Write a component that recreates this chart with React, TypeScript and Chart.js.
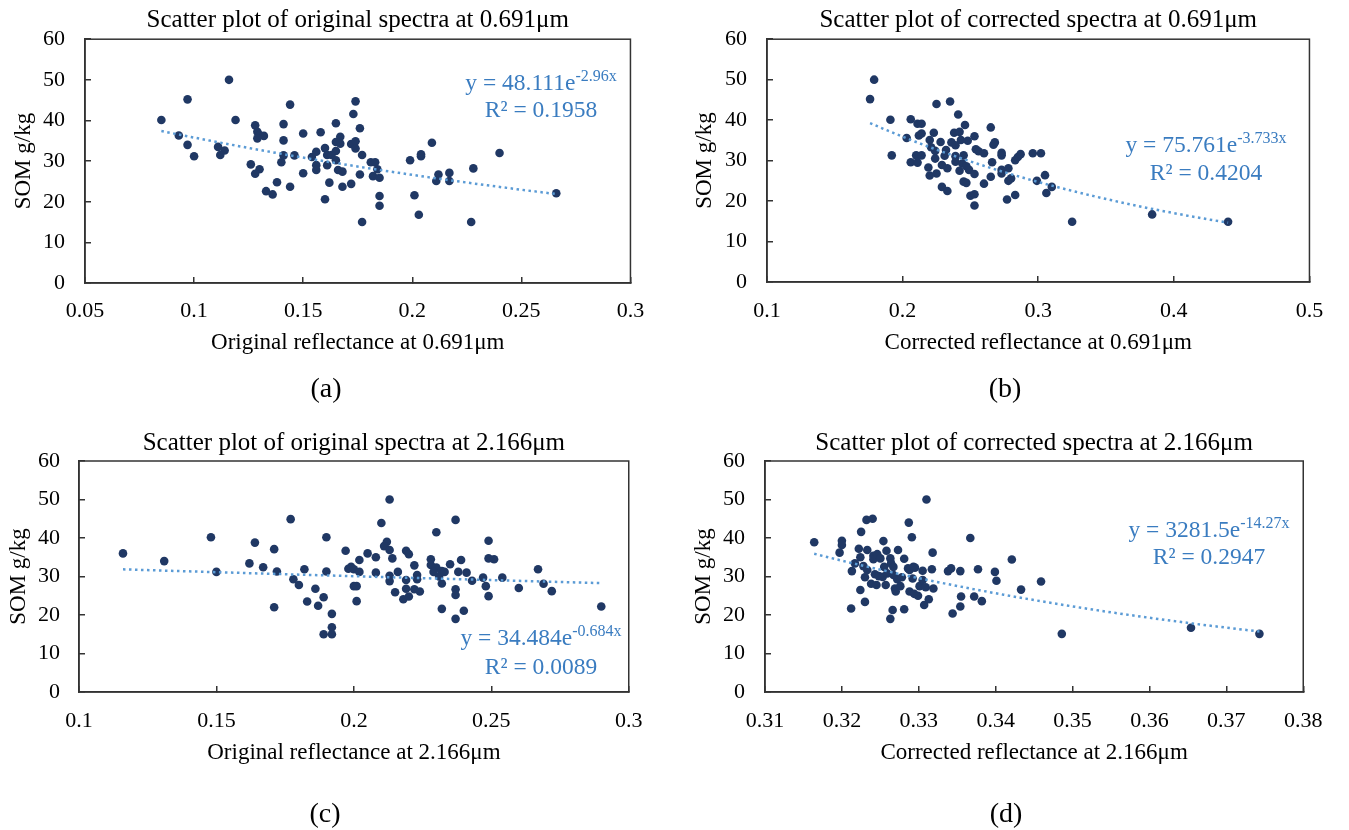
import React, { useEffect, useRef } from "react";
import { Chart, registerables } from "chart.js";

Chart.register(...registerables);

const SERIF = "'Liberation Serif', 'Times New Roman', serif";
const POINT_COLOR = "#203864";
const TREND_COLOR = "#5b9bd5";
const EQ_COLOR = "#3a7cc0";

// ---------- Panel (a): original spectra at 0.691 µm ----------
const A_X = [0.085, 0.097, 0.116, 0.093, 0.097, 0.100, 0.119, 0.111, 0.114, 0.112, 0.128, 0.129, 0.130, 0.132, 0.129, 0.126, 0.130, 0.128, 0.133, 0.136, 0.138, 0.141, 0.141, 0.144, 0.140, 0.141, 0.146, 0.144, 0.150, 0.150, 0.154, 0.156, 0.158, 0.156, 0.156, 0.160, 0.161, 0.161, 0.160, 0.162, 0.165, 0.167, 0.165, 0.167, 0.165, 0.163, 0.165, 0.166, 0.168, 0.168, 0.172, 0.173, 0.174, 0.172, 0.174, 0.174, 0.176, 0.177, 0.176, 0.177, 0.181, 0.183, 0.182, 0.184, 0.185, 0.185, 0.185, 0.199, 0.204, 0.204, 0.209, 0.201, 0.203, 0.212, 0.211, 0.217, 0.217, 0.228, 0.227, 0.240, 0.266];
const A_Y = [40.1, 45.2, 50.0, 36.3, 34.0, 31.2, 40.1, 33.5, 32.6, 31.5, 38.8, 37.2, 36.4, 36.2, 35.6, 29.2, 28.0, 26.9, 22.6, 21.8, 24.8, 39.1, 35.1, 43.9, 29.7, 31.4, 31.4, 23.7, 36.8, 27.0, 31.0, 32.3, 37.1, 29.0, 27.8, 33.2, 31.5, 29.0, 20.6, 24.7, 39.3, 36.0, 34.7, 34.3, 32.5, 31.5, 30.2, 27.8, 27.4, 23.7, 24.4, 41.6, 44.7, 34.2, 34.9, 33.1, 38.1, 31.5, 26.7, 15.0, 29.7, 29.7, 26.3, 28.0, 25.9, 21.4, 19.0, 30.2, 31.2, 31.7, 34.5, 21.6, 16.8, 26.7, 25.1, 27.1, 25.1, 28.2, 15.0, 32.0, 22.1];

// ---------- Panel (b): corrected spectra at 0.691 µm ----------
const B_X = [0.179, 0.176, 0.191, 0.192, 0.206, 0.203, 0.211, 0.214, 0.212, 0.214, 0.206, 0.211, 0.210, 0.214, 0.223, 0.225, 0.220, 0.221, 0.224, 0.228, 0.224, 0.219, 0.220, 0.225, 0.229, 0.233, 0.229, 0.233, 0.231, 0.235, 0.241, 0.238, 0.242, 0.236, 0.239, 0.243, 0.246, 0.248, 0.232, 0.239, 0.245, 0.239, 0.244, 0.242, 0.247, 0.249, 0.253, 0.245, 0.247, 0.253, 0.254, 0.256, 0.260, 0.260, 0.250, 0.253, 0.253, 0.265, 0.268, 0.267, 0.266, 0.265, 0.273, 0.273, 0.273, 0.278, 0.273, 0.278, 0.280, 0.277, 0.283, 0.283, 0.285, 0.287, 0.296, 0.299, 0.302, 0.305, 0.310, 0.306, 0.325, 0.384, 0.440];
const B_Y = [50.0, 45.2, 40.1, 31.3, 40.2, 35.6, 39.1, 39.1, 36.2, 36.7, 29.6, 29.5, 31.3, 31.3, 36.9, 44.0, 35.1, 33.3, 32.4, 34.6, 30.5, 28.3, 26.3, 26.8, 23.5, 22.5, 28.9, 28.1, 31.2, 44.6, 41.4, 36.9, 37.1, 34.5, 33.8, 35.1, 38.8, 34.9, 32.6, 31.1, 31.3, 29.7, 29.3, 27.5, 28.6, 27.7, 26.7, 24.8, 24.5, 36.0, 32.8, 32.3, 31.8, 24.3, 21.3, 21.7, 18.9, 38.2, 34.5, 33.9, 29.6, 26.0, 31.9, 31.3, 27.7, 28.1, 26.8, 25.0, 25.6, 20.4, 21.5, 30.1, 30.9, 31.6, 31.8, 25.0, 31.8, 26.4, 23.5, 22.0, 14.9, 16.7, 14.9];

// ---------- Panel (c): original spectra at 2.166 µm ----------
const C_X = [0.116, 0.131, 0.148, 0.150, 0.164, 0.162, 0.167, 0.171, 0.172, 0.171, 0.177, 0.178, 0.180, 0.182, 0.183, 0.186, 0.187, 0.189, 0.190, 0.190, 0.192, 0.192, 0.189, 0.192, 0.197, 0.198, 0.199, 0.200, 0.200, 0.201, 0.201, 0.202, 0.202, 0.205, 0.208, 0.208, 0.210, 0.212, 0.211, 0.213, 0.213, 0.214, 0.213, 0.213, 0.215, 0.216, 0.219, 0.220, 0.219, 0.219, 0.218, 0.220, 0.222, 0.223, 0.223, 0.222, 0.224, 0.228, 0.230, 0.228, 0.230, 0.229, 0.232, 0.231, 0.233, 0.235, 0.232, 0.232, 0.237, 0.239, 0.238, 0.237, 0.237, 0.241, 0.243, 0.237, 0.240, 0.249, 0.249, 0.251, 0.247, 0.248, 0.249, 0.254, 0.260, 0.267, 0.269, 0.272, 0.290];
const C_Y = [36.0, 34.0, 40.2, 31.2, 38.8, 33.4, 32.4, 37.1, 31.3, 22.0, 44.9, 29.3, 27.8, 31.9, 23.5, 26.8, 22.4, 24.6, 40.2, 31.3, 20.3, 16.8, 15.0, 15.0, 36.7, 32.0, 32.5, 31.9, 27.5, 27.5, 23.6, 34.3, 31.2, 36.0, 35.0, 31.0, 43.9, 39.0, 37.9, 36.9, 50.0, 34.7, 30.2, 28.8, 25.9, 31.2, 36.7, 35.8, 29.1, 26.8, 24.1, 24.8, 32.9, 30.4, 29.3, 26.7, 26.1, 34.5, 41.5, 33.0, 32.3, 31.2, 31.4, 30.0, 31.2, 33.2, 28.2, 21.6, 44.7, 34.3, 31.2, 26.7, 25.2, 31.0, 28.9, 19.0, 21.1, 39.3, 34.7, 34.5, 29.7, 27.5, 24.9, 29.7, 27.0, 31.9, 28.1, 26.2, 22.2];

// ---------- Panel (d): corrected spectra at 2.166 µm ----------
const D_X = [0.3164, 0.3200, 0.3200, 0.3197, 0.3212, 0.3213, 0.3217, 0.3224, 0.3222, 0.3225, 0.3232, 0.3240, 0.3224, 0.3230, 0.3230, 0.3228, 0.3233, 0.3233, 0.3238, 0.3241, 0.3241, 0.3246, 0.3250, 0.3254, 0.3243, 0.3245, 0.3248, 0.3255, 0.3258, 0.3257, 0.3253, 0.3259, 0.3263, 0.3264, 0.3267, 0.3267, 0.3269, 0.3270, 0.3273, 0.3266, 0.3263, 0.3272, 0.3276, 0.3278, 0.3281, 0.3281, 0.3287, 0.3291, 0.3286, 0.3288, 0.3293, 0.3295, 0.3292, 0.3288, 0.3294, 0.3299, 0.3301, 0.3305, 0.3305, 0.3309, 0.3310, 0.3307, 0.3313, 0.3318, 0.3317, 0.3319, 0.3338, 0.3342, 0.3354, 0.3355, 0.3354, 0.3344, 0.3367, 0.3377, 0.3372, 0.3382, 0.3399, 0.3401, 0.3421, 0.3433, 0.3459, 0.3486, 0.3654, 0.3743];
const D_Y = [38.9, 39.3, 38.2, 36.2, 21.7, 31.4, 33.4, 35.0, 37.2, 41.6, 44.7, 45.0, 26.5, 23.4, 29.8, 32.7, 36.9, 31.7, 28.1, 35.4, 34.5, 35.8, 34.7, 39.2, 30.6, 27.8, 30.1, 32.5, 36.7, 27.8, 29.9, 30.8, 34.7, 33.4, 32.5, 30.4, 26.9, 26.1, 36.9, 21.3, 19.0, 29.3, 27.5, 29.8, 34.6, 21.5, 44.0, 40.2, 32.1, 31.7, 32.5, 32.3, 29.5, 26.1, 25.5, 25.0, 27.5, 31.5, 29.1, 27.2, 50.0, 22.6, 24.1, 36.2, 31.9, 26.9, 31.4, 32.1, 31.4, 24.8, 22.2, 20.4, 40.0, 31.9, 24.8, 23.6, 31.2, 28.9, 34.4, 26.6, 28.7, 15.1, 16.7, 15.1];

// ---------- Ticks ----------
const Y_TICKS = [0, 10, 20, 30, 40, 50, 60];
const X_TICKS_A = [0.05, 0.1, 0.15, 0.2, 0.25, 0.3];
const X_TICKS_B = [0.1, 0.2, 0.3, 0.4, 0.5];
const X_TICKS_C = [0.1, 0.15, 0.2, 0.25, 0.3];
const X_TICKS_D = [0.31, 0.32, 0.33, 0.34, 0.35, 0.36, 0.37, 0.38];

// ---------- Exponential trendline coefficients (y = a·e^(b·x)) ----------
const FIT_A = [48.111, -2.96];
const FIT_B = [75.761, -3.733];
const FIT_C = [34.484, -0.684];
const FIT_D = [3281.5, -14.27];

const EQ_A = ["48.111", "-2.96x", "0.1958"];
const EQ_B = ["75.761", "-3.733x", "0.4204"];
const EQ_C = ["34.484", "-0.684x", "0.0089"];
const EQ_D = ["3281.5", "-14.27x", "0.2947"];

const TITLES = [
  "Scatter plot of original spectra at 0.691μm",
  "Scatter plot of corrected spectra at 0.691μm",
  "Scatter plot of original spectra at 2.166μm",
  "Scatter plot of corrected spectra at 2.166μm",
];
const X_TITLES = [
  "Original reflectance at 0.691μm",
  "Corrected reflectance at 0.691μm",
  "Original reflectance at 2.166μm",
  "Corrected reflectance at 2.166μm",
];
const Y_TITLE = "SOM g/kg";
const CAPTIONS = ["(a)", "(b)", "(c)", "(d)"];

function trend(xs: number[], coef: number[]) {
  const lo = Math.min(...xs);
  const hi = Math.max(...xs);
  const pts: { x: number; y: number }[] = [];
  const n = 40;
  for (let i = 0; i <= n; i++) {
    const x = lo + ((hi - lo) * i) / n;
    pts.push({ x, y: coef[0] * Math.exp(coef[1] * x) });
  }
  return pts;
}

const framePlugin = {
  id: "frame",
  afterDatasetsDraw(chart: any) {
    const { ctx, chartArea } = chart;
    const { left, top, right, bottom } = chartArea;
    ctx.save();
    ctx.strokeStyle = "#333";
    ctx.lineWidth = 1.5;
    ctx.strokeRect(left, top, right - left, bottom - top);
    ctx.restore();
  },
};

type Layout = {
  left: number;
  top: number;
  width: number;
  height: number;
  padRight: number;
  padBottom: number;
  yWidth: number;
  yTitlePad: number;
  yTickPad: number;
  xTickPad: number;
  titlePadTop: number;
  titlePadBottom: number;
  xTitlePadBottom: number;
};

type PanelProps = {
  xs: number[];
  ys: number[];
  xTicks: number[];
  fit: number[];
  title: string;
  xTitle: string;
  layout: Layout;
};

function Panel({ xs, ys, xTicks, fit, title, xTitle, layout }: PanelProps) {
  const ref = useRef<HTMLCanvasElement | null>(null);
  useEffect(() => {
    if (!ref.current) return;
    const tickFont = { family: SERIF, size: 22 };
    const axisFont = { family: SERIF, size: 23, weight: "normal" as const };
    const titleFont = { family: SERIF, size: 25, weight: "normal" as const };
    const chart = new Chart(ref.current, {
      type: "scatter",
      data: {
        datasets: [
          {
            label: "trend",
            data: trend(xs, fit),
            showLine: true,
            pointRadius: 0,
            borderColor: TREND_COLOR,
            borderWidth: 2.5,
            borderDash: [2.5, 3.5],
            order: 0,
          } as any,
          {
            label: "SOM",
            data: xs.map((x, i) => ({ x, y: ys[i] })),
            pointRadius: 4.3,
            pointBackgroundColor: POINT_COLOR,
            pointBorderWidth: 0,
            borderColor: POINT_COLOR,
            order: 1,
          },
        ],
      },
      options: {
        animation: false,
        responsive: false,
        events: [],
        layout: {
          padding: { left: 0, top: 0, right: layout.padRight, bottom: layout.padBottom },
        },
        plugins: {
          legend: { display: false },
          tooltip: { enabled: false },
          title: {
            display: true,
            text: title,
            fullSize: false,
            color: "#000",
            font: titleFont,
            padding: { top: layout.titlePadTop, bottom: layout.titlePadBottom },
          },
        },
        scales: {
          x: {
            type: "linear",
            min: xTicks[0],
            max: xTicks[xTicks.length - 1],
            afterBuildTicks: (s: any) => {
              s.ticks = xTicks.map((v) => ({ value: v }));
            },
            afterFit: (s: any) => {
              s.height = 80;
            },
            ticks: {
              color: "#000",
              font: tickFont,
              padding: layout.xTickPad,
              maxRotation: 0,
              autoSkip: false,
              callback: (v: any) => String(v),
            },
            grid: {
              drawOnChartArea: false,
              drawTicks: true,
              tickLength: -6,
              color: "#333",
              lineWidth: 1.5,
            },
            border: { display: true, color: "#333", width: 1.5 },
            title: {
              display: true,
              text: xTitle,
              color: "#000",
              font: axisFont,
              padding: { top: 0, bottom: layout.xTitlePadBottom },
            },
          },
          y: {
            type: "linear",
            min: 0,
            max: 60,
            afterBuildTicks: (s: any) => {
              s.ticks = Y_TICKS.map((v) => ({ value: v }));
            },
            afterFit: (s: any) => {
              s.width = layout.yWidth;
            },
            ticks: {
              color: "#000",
              font: tickFont,
              padding: layout.yTickPad,
              autoSkip: false,
              callback: (v: any) => String(v),
            },
            grid: {
              drawOnChartArea: false,
              drawTicks: true,
              tickLength: -6,
              color: "#333",
              lineWidth: 1.5,
            },
            border: { display: true, color: "#333", width: 1.5 },
            title: {
              display: true,
              text: Y_TITLE,
              color: "#000",
              font: axisFont,
              padding: { top: layout.yTitlePad, bottom: 0 },
            },
          },
        },
      },
      plugins: [framePlugin],
    });
    return () => chart.destroy();
  }, []);
  return (
    <canvas
      ref={ref}
      width={layout.width}
      height={layout.height}
      style={{ position: "absolute", left: layout.left, top: layout.top, width: layout.width, height: layout.height }}
    />
  );
}

const LAYOUTS: Layout[] = [
  { left: 0, top: 0, width: 665, height: 400, padRight: 27, padBottom: 37, yWidth: 85, yTitlePad: 10.2, yTickPad: 26, xTickPad: 20.8, titlePadTop: 5, titlePadBottom: 4, xTitlePadBottom: 6.2 },
  { left: 680, top: 0, width: 665, height: 400, padRight: 33, padBottom: 38, yWidth: 87, yTitlePad: 11.2, yTickPad: 26, xTickPad: 21.8, titlePadTop: 5, titlePadBottom: 4, xTitlePadBottom: 5.2 },
  { left: 0, top: 415, width: 665, height: 415, padRight: 30, padBottom: 58, yWidth: 79, yTitlePad: 5.2, yTickPad: 25, xTickPad: 22.5, titlePadTop: 13, titlePadBottom: 3, xTitlePadBottom: 5.2 },
  { left: 680, top: 415, width: 665, height: 415, padRight: 29, padBottom: 58, yWidth: 85, yTitlePad: 10.2, yTickPad: 26, xTickPad: 22.5, titlePadTop: 13, titlePadBottom: 3, xTitlePadBottom: 5.2 },
];

const CAPTION_POS = [
  [326, 388],
  [1005, 388],
  [325, 813],
  [1006, 813],
];
const EQ_POS = [
  [541, 83, 110],
  [1206, 145, 173],
  [541, 638, 667],
  [1209, 530, 557],
];

function Equation({ eq, pos }: { eq: string[]; pos: number[] }) {
  const base: React.CSSProperties = {
    position: "absolute",
    left: pos[0],
    transform: "translate(-50%, -50%)",
    whiteSpace: "nowrap",
    fontFamily: SERIF,
    fontSize: 23.5,
    lineHeight: 1,
    color: EQ_COLOR,
  };
  return (
    <>
      <div style={{ ...base, top: pos[1] }}>
        y = {eq[0]}e
        <span style={{ fontSize: 16, position: "relative", top: -9 }}>{eq[1]}</span>
      </div>
      <div style={{ ...base, top: pos[2] }}>R² = {eq[2]}</div>
    </>
  );
}

export default function App() {
  const panels = [
    { xs: A_X, ys: A_Y, xTicks: X_TICKS_A, fit: FIT_A, eq: EQ_A },
    { xs: B_X, ys: B_Y, xTicks: X_TICKS_B, fit: FIT_B, eq: EQ_B },
    { xs: C_X, ys: C_Y, xTicks: X_TICKS_C, fit: FIT_C, eq: EQ_C },
    { xs: D_X, ys: D_Y, xTicks: X_TICKS_D, fit: FIT_D, eq: EQ_D },
  ];
  return (
    <div style={{ position: "absolute", left: 0, top: 0, width: 1349, height: 830, background: "#fff", overflow: "hidden" }}>
      {panels.map((p, i) => (
        <Panel
          key={i}
          xs={p.xs}
          ys={p.ys}
          xTicks={p.xTicks}
          fit={p.fit}
          title={TITLES[i]}
          xTitle={X_TITLES[i]}
          layout={LAYOUTS[i]}
        />
      ))}
      {panels.map((p, i) => (
        <Equation key={"eq" + i} eq={p.eq} pos={EQ_POS[i]} />
      ))}
      {CAPTIONS.map((c, i) => (
        <div
          key={"cap" + i}
          style={{
            position: "absolute",
            left: CAPTION_POS[i][0],
            top: CAPTION_POS[i][1],
            transform: "translate(-50%, -50%)",
            fontFamily: SERIF,
            fontSize: 28,
            lineHeight: 1,
            color: "#000",
          }}
        >
          {c}
        </div>
      ))}
    </div>
  );
}
